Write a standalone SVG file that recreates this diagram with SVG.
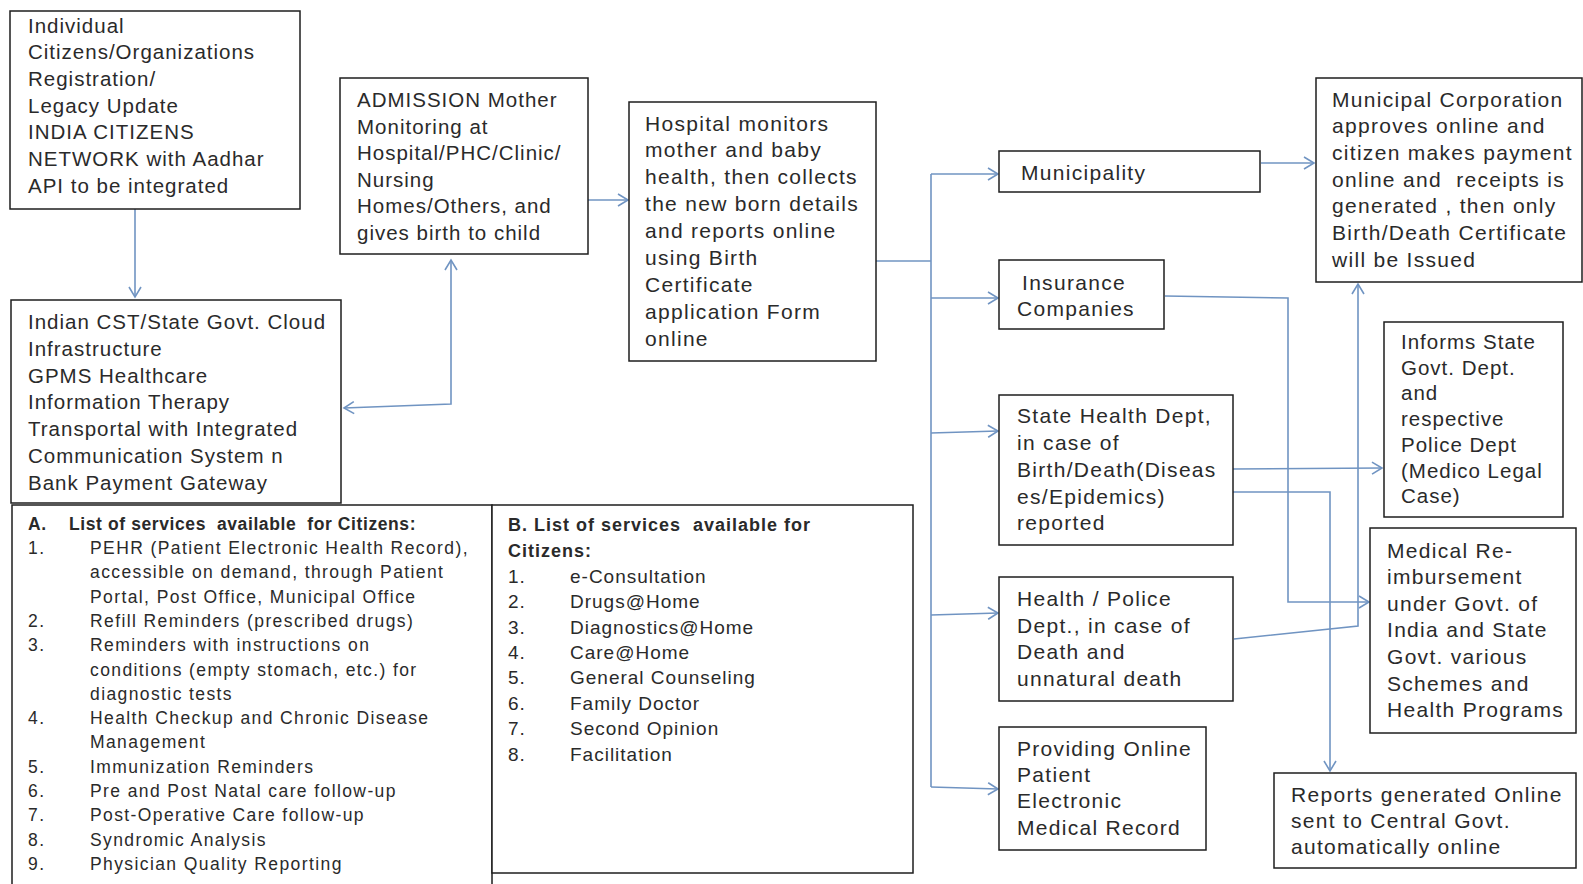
<svg xmlns="http://www.w3.org/2000/svg" width="1583" height="884" viewBox="0 0 1583 884">
<style>
.box{fill:#fff;stroke:#1e1e1e;stroke-width:1.5}
text{font-family:"Liberation Sans",Arial,sans-serif;fill:#2a2a2a}
.t1{font-size:20.5px;letter-spacing:1px}
.t2{font-size:21px;letter-spacing:1.3px}
.ta{font-size:17.5px;letter-spacing:1.4px}
.tah{font-size:17.5px;font-weight:bold;letter-spacing:0.6px}
.tb{font-size:19px;letter-spacing:1px}
.tbh{font-size:18px;font-weight:bold;letter-spacing:1px}
.con{fill:none;stroke:#7094c2;stroke-width:1.6}
</style>
<defs>
<marker id="arr" markerUnits="userSpaceOnUse" markerWidth="14" markerHeight="16" refX="11" refY="7" orient="auto-start-reverse">
<path d="M1,1 L11,7 L1,13" fill="none" stroke="#7094c2" stroke-width="1.6"/>
</marker>
</defs>

<g id="connectors">
<path class="con" d="M135,188 V297" marker-end="url(#arr)"/>
<path class="con" d="M451,260 V404 L344,408" marker-start="url(#arr)" marker-end="url(#arr)"/>
<path class="con" d="M588,200 H628" marker-end="url(#arr)"/>
<path class="con" d="M876,261 H931"/>
<path class="con" d="M931,174 V787"/>
<path class="con" d="M931,174 H998" marker-end="url(#arr)"/>
<path class="con" d="M931,298 H998" marker-end="url(#arr)"/>
<path class="con" d="M931,433 L998,431" marker-end="url(#arr)"/>
<path class="con" d="M931,615 L998,613" marker-end="url(#arr)"/>
<path class="con" d="M931,787 L998,789" marker-end="url(#arr)"/>
<path class="con" d="M1261,163 H1314" marker-end="url(#arr)"/>
<path class="con" d="M1165,296 L1288,298 V602 H1369" marker-end="url(#arr)"/>
<path class="con" d="M1233,469 L1382,468" marker-end="url(#arr)"/>
<path class="con" d="M1233,492 H1330 V771" marker-end="url(#arr)"/>
<path class="con" d="M1234,639 L1358,626 V284" marker-end="url(#arr)"/>
</g>

<g id="registration">
<rect class="box" x="10" y="11" width="290" height="198"/>
<text class="t1" x="28"><tspan x="28" y="32.5">Individual</tspan><tspan x="28" y="59.2">Citizens/Organizations</tspan><tspan x="28" y="85.9">Registration/</tspan><tspan x="28" y="112.6">Legacy Update</tspan><tspan x="28" y="139.3">INDIA CITIZENS</tspan><tspan x="28" y="166">NETWORK with Aadhar</tspan><tspan x="28" y="192.7">API to be integrated</tspan></text>
</g>

<g id="cloud">
<rect class="box" x="11" y="300" width="330" height="203"/>
<text class="t1"><tspan x="28" y="328.7">Indian CST/State Govt. Cloud</tspan><tspan x="28" y="355.6">Infrastructure</tspan><tspan x="28" y="382.5">GPMS Healthcare</tspan><tspan x="28" y="409.4">Information Therapy</tspan><tspan x="28" y="436.3">Transportal with Integrated</tspan><tspan x="28" y="463.2">Communication System n</tspan><tspan x="28" y="490.1">Bank Payment Gateway</tspan></text>
</g>

<g id="list-a">
<rect class="box" x="12" y="505" width="480" height="400"/>
<text class="tah" x="28" y="530">A.</text>
<text class="tah" x="69" y="530" xml:space="preserve">List of services  available  for Citizens:</text>
<text class="ta"><tspan x="28" y="554">1.</tspan><tspan x="28" y="626.9">2.</tspan><tspan x="28" y="651.2">3.</tspan><tspan x="28" y="724.1">4.</tspan><tspan x="28" y="772.7">5.</tspan><tspan x="28" y="797">6.</tspan><tspan x="28" y="821.3">7.</tspan><tspan x="28" y="845.6">8.</tspan><tspan x="28" y="869.9">9.</tspan></text>
<text class="ta"><tspan x="90" y="554">PEHR (Patient Electronic Health Record),</tspan><tspan x="90" y="578.3">accessible on demand, through Patient</tspan><tspan x="90" y="602.6">Portal, Post Office, Municipal Office</tspan><tspan x="90" y="626.9">Refill Reminders (prescribed drugs)</tspan><tspan x="90" y="651.2">Reminders with instructions on</tspan><tspan x="90" y="675.5">conditions (empty stomach, etc.) for</tspan><tspan x="90" y="699.8">diagnostic tests</tspan><tspan x="90" y="724.1">Health Checkup and Chronic Disease</tspan><tspan x="90" y="748.4">Management</tspan><tspan x="90" y="772.7">Immunization Reminders</tspan><tspan x="90" y="797">Pre and Post Natal care follow-up</tspan><tspan x="90" y="821.3">Post-Operative Care follow-up</tspan><tspan x="90" y="845.6">Syndromic Analysis</tspan><tspan x="90" y="869.9">Physician Quality Reporting</tspan></text>
</g>

<g id="list-b">
<rect class="box" x="492" y="505" width="421" height="368"/>
<text class="tbh" xml:space="preserve"><tspan x="508" y="530.5">B. List of services  available for</tspan><tspan x="508" y="556.5">Citizens:</tspan></text>
<text class="tb"><tspan x="508" y="582.7">1.</tspan><tspan x="508" y="608.1">2.</tspan><tspan x="508" y="633.5">3.</tspan><tspan x="508" y="658.9">4.</tspan><tspan x="508" y="684.3">5.</tspan><tspan x="508" y="709.7">6.</tspan><tspan x="508" y="735.1">7.</tspan><tspan x="508" y="760.5">8.</tspan></text>
<text class="tb"><tspan x="570" y="582.7">e-Consultation</tspan><tspan x="570" y="608.1">Drugs@Home</tspan><tspan x="570" y="633.5">Diagnostics@Home</tspan><tspan x="570" y="658.9">Care@Home</tspan><tspan x="570" y="684.3">General Counseling</tspan><tspan x="570" y="709.7">Family Doctor</tspan><tspan x="570" y="735.1">Second Opinion</tspan><tspan x="570" y="760.5">Facilitation</tspan></text>
</g>

<g id="admission">
<rect class="box" x="340" y="78" width="248" height="176"/>
<text class="t1"><tspan x="357" y="107">ADMISSION Mother</tspan><tspan x="357" y="133.6">Monitoring at</tspan><tspan x="357" y="160.2">Hospital/PHC/Clinic/</tspan><tspan x="357" y="186.8">Nursing</tspan><tspan x="357" y="213.4">Homes/Others, and</tspan><tspan x="357" y="240">gives birth to child</tspan></text>
</g>

<g id="hospital">
<rect class="box" x="629" y="102" width="247" height="259"/>
<text class="t2"><tspan x="645" y="130.5">Hospital monitors</tspan><tspan x="645" y="157.4">mother and baby</tspan><tspan x="645" y="184.3">health, then collects</tspan><tspan x="645" y="211.2">the new born details</tspan><tspan x="645" y="238.1">and reports online</tspan><tspan x="645" y="265">using Birth</tspan><tspan x="645" y="291.9">Certificate</tspan><tspan x="645" y="318.8">application Form</tspan><tspan x="645" y="345.7">online</tspan></text>
</g>

<g id="municipality">
<rect class="box" x="999" y="151" width="261" height="41"/>
<text class="t2" x="1021" y="180">Municipality</text>
</g>

<g id="insurance">
<rect class="box" x="999" y="260" width="165" height="69"/>
<text class="t2"><tspan x="1022" y="290">Insurance</tspan><tspan x="1017" y="315.6">Companies</tspan></text>
</g>

<g id="state-health">
<rect class="box" x="999" y="395" width="234" height="150"/>
<text class="t2"><tspan x="1017" y="423">State Health Dept,</tspan><tspan x="1017" y="450">in case of</tspan><tspan x="1017" y="477">Birth/Death(Diseas</tspan><tspan x="1017" y="504">es/Epidemics)</tspan><tspan x="1017" y="530">reported</tspan></text>
</g>

<g id="health-police">
<rect class="box" x="999" y="577" width="234" height="124"/>
<text class="t2"><tspan x="1017" y="606">Health / Police</tspan><tspan x="1017" y="632.5">Dept., in case of</tspan><tspan x="1017" y="659.2">Death and</tspan><tspan x="1017" y="686">unnatural death</tspan></text>
</g>

<g id="pemr">
<rect class="box" x="999" y="727" width="207" height="123"/>
<text class="t2"><tspan x="1017" y="755.5">Providing Online</tspan><tspan x="1017" y="781.5">Patient</tspan><tspan x="1017" y="808">Electronic</tspan><tspan x="1017" y="835">Medical Record</tspan></text>
</g>

<g id="municipal-corporation">
<rect class="box" x="1316" y="78" width="266" height="204"/>
<text class="t2" xml:space="preserve"><tspan x="1332" y="106.5">Municipal Corporation</tspan><tspan x="1332" y="133.2">approves online and</tspan><tspan x="1332" y="159.8">citizen makes payment</tspan><tspan x="1332" y="186.5">online and  receipts is</tspan><tspan x="1332" y="213.2">generated , then only</tspan><tspan x="1332" y="239.8">Birth/Death Certificate</tspan><tspan x="1332" y="266.5">will be Issued</tspan></text>
</g>

<g id="informs">
<rect class="box" x="1384" y="322" width="179" height="195"/>
<text class="t1"><tspan x="1401" y="349">Informs State</tspan><tspan x="1401" y="374.7">Govt. Dept.</tspan><tspan x="1401" y="400.4">and</tspan><tspan x="1401" y="426.1">respective</tspan><tspan x="1401" y="451.8">Police Dept</tspan><tspan x="1401" y="477.5">(Medico Legal</tspan><tspan x="1401" y="503.2">Case)</tspan></text>
</g>

<g id="reimbursement">
<rect class="box" x="1370" y="528" width="206" height="205"/>
<text class="t2"><tspan x="1387" y="557.5">Medical Re-</tspan><tspan x="1387" y="584.1">imbursement</tspan><tspan x="1387" y="610.7">under Govt. of</tspan><tspan x="1387" y="637.3">India and State</tspan><tspan x="1387" y="663.9">Govt. various</tspan><tspan x="1387" y="690.5">Schemes and</tspan><tspan x="1387" y="717.1">Health Programs</tspan></text>
</g>

<g id="reports">
<rect class="box" x="1274" y="773" width="302" height="95"/>
<text class="t2"><tspan x="1291" y="802">Reports generated Online</tspan><tspan x="1291" y="827.5">sent to Central Govt.</tspan><tspan x="1291" y="854">automatically online</tspan></text>
</g>
</svg>
